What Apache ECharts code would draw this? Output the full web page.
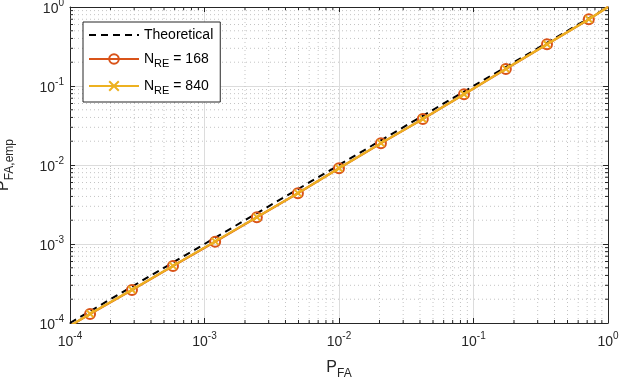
<!DOCTYPE html>
<html>
<head>
<meta charset="UTF-8">
<title>PFA empirical vs theoretical</title>
<script src="https://cdn.jsdelivr.net/npm/echarts@6/dist/echarts.min.js"></script>
<style>
	html, body { margin: 0; padding: 0; background: #fff; }
	#chart { width: 622px; height: 384px; }
</style>
</head>
<body>
<div id="chart"></div>
<script>
	// data
	var pfa = [1.41e-4, 2.89e-4, 5.83e-4, 1.20e-3, 2.45e-3, 4.95e-3, 1.0e-2, 2.05e-2, 4.2e-2, 8.5e-2, 0.174, 0.352, 0.72];
	var emp168 = [1.30e-4, 2.62e-4, 5.27e-4, 1.07e-3, 2.18e-3, 4.39e-3, 9.08e-3, 1.88e-2, 3.82e-2, 7.85e-2, 0.164, 0.337, 0.698];
	var emp840 = [1.31e-4, 2.63e-4, 5.29e-4, 1.08e-3, 2.19e-3, 4.40e-3, 9.10e-3, 1.89e-2, 3.83e-2, 7.87e-2, 0.165, 0.338, 0.699];
	var lineStart = [1e-4, 0.92e-4];
	var lineEnd = [1, 1];
	var theory = [[1e-4, 1e-4], [1, 1]];
	var decades = [-4, -3, -2, -1, 0];
	var axisMin = 1e-4, axisMax = 1;

	var minorVals = [];
	for (var d = 0; d < decades.length - 1; d++) {
		for (var m = 2; m <= 9; m++) minorVals.push(m * Math.pow(10, decades[d]));
	}

	function pairs(xs, ys) {
		var out = [{value: lineStart, symbol: 'none'}];
		for (var i = 0; i < xs.length; i++) out.push([xs[i], ys[i]]);
		out.push({value: lineEnd, symbol: 'none'});
		return out;
	}

	function powLabel(v) {
		var e = Math.round(Math.log10(v));
		return '{b|10}{s|' + e + '}';
	}
	var supRich = {
		b: {fontSize: 14, color: '#262626', fontFamily: 'Liberation Sans', padding: [4, 0, 0, 0]},
		s: {fontSize: 10, color: '#262626', fontFamily: 'Liberation Sans', padding: [0, 0, 8, 0]}
	};

	var gridCol = '#dcdcdc', axisCol = '#262626';

	function minorGrid(dir) {
		return {
			type: 'custom',
			silent: true,
			z: 1,
			xAxisIndex: 0, yAxisIndex: 0,
			data: minorVals,
			clip: true,
			renderItem: function (params, api) {
				var v = api.value(0);
				var p1, p2;
				if (dir === 'x') { p1 = api.coord([v, axisMin]); p2 = api.coord([v, axisMax]); }
				else { p1 = api.coord([axisMin, v]); p2 = api.coord([axisMax, v]); }
				var tk = 3;
				var children = [{
					type: 'line',
					shape: {x1: p1[0], y1: p1[1], x2: p2[0], y2: p2[1]},
					style: {stroke: '#c4c4c4', lineWidth: 1, lineDash: [1, 3]}
				}];
				if (dir === 'x') {
					children.push({type: 'line', shape: {x1: p1[0], y1: p1[1], x2: p1[0], y2: p1[1] - tk}, style: {stroke: axisCol, lineWidth: 1}});
					children.push({type: 'line', shape: {x1: p2[0], y1: p2[1], x2: p2[0], y2: p2[1] + tk}, style: {stroke: axisCol, lineWidth: 1}});
				} else {
					children.push({type: 'line', shape: {x1: p1[0], y1: p1[1], x2: p1[0] + tk, y2: p1[1]}, style: {stroke: axisCol, lineWidth: 1}});
					children.push({type: 'line', shape: {x1: p2[0], y1: p2[1], x2: p2[0] - tk, y2: p2[1]}, style: {stroke: axisCol, lineWidth: 1}});
				}
				return {type: 'group', children: children};
			}
		};
	}

	var chart = echarts.init(document.getElementById('chart'));
	var option = {
		animation: false,
		backgroundColor: '#fff',
		grid: {left: 70, right: 14, top: 7, bottom: 61, containLabel: false, outerBoundsMode: 'none'},
		legend: {
			left: 83, top: 22,
			orient: 'vertical',
			backgroundColor: '#fff',
			borderColor: '#262626',
			borderWidth: 1,
			borderRadius: 0,
			padding: [6, 7, 6, 5],
			itemWidth: 50,
			itemHeight: 12,
			itemGap: 10,
			data: [
				{name: 'Theoretical', itemStyle: {opacity: 0}},
				'N_RE = 168',
				'N_RE = 840'
			],
			formatter: function (name) {
				if (name === 'Theoretical') return '{t|Theoretical}';
				var p = name.split(' = ');
				return '{t|N}{sub|RE}{t| = ' + p[1] + '}';
			},
			textStyle: {
				color: '#000',
				rich: {
					t: {fontSize: 14, fontFamily: 'Liberation Sans', color: '#000'},
					sub: {fontSize: 11, fontFamily: 'Liberation Sans', color: '#000', padding: [9, 0, 0, 0]}
				}
			}
		},
		xAxis: [{
			type: 'log', logBase: 10, min: axisMin, max: axisMax,
			name: '{p|P}{s|FA}',
			nameLocation: 'middle', nameGap: 33,
			nameTextStyle: {rich: {
				p: {fontSize: 16, fontFamily: 'Liberation Sans', color: '#262626'},
				s: {fontSize: 12, fontFamily: 'Liberation Sans', color: '#262626', padding: [12, 0, 0, 0]}
			}},
			axisLine: {lineStyle: {color: axisCol, width: 1}},
			axisTick: {inside: true, length: 5, lineStyle: {color: axisCol}},
			axisLabel: {formatter: powLabel, rich: supRich, margin: 8},
			splitLine: {show: true, lineStyle: {color: gridCol, width: 1}}
		}, {
			type: 'log', logBase: 10, min: axisMin, max: axisMax, position: 'top',
			axisLine: {lineStyle: {color: axisCol, width: 1}},
			axisTick: {inside: true, length: 5, lineStyle: {color: axisCol}},
			axisLabel: {show: false},
			splitLine: {show: false}
		}],
		yAxis: [{
			type: 'log', logBase: 10, min: axisMin, max: axisMax,
			name: '{p|P}{s|FA,emp}',
			nameLocation: 'middle', nameGap: 54, nameRotate: 90,
			nameTextStyle: {rich: {
				p: {fontSize: 16, fontFamily: 'Liberation Sans', color: '#262626'},
				s: {fontSize: 12, fontFamily: 'Liberation Sans', color: '#262626', padding: [12, 0, 0, 0]}
			}},
			axisLine: {lineStyle: {color: axisCol, width: 1}},
			axisTick: {inside: true, length: 5, lineStyle: {color: axisCol}},
			axisLabel: {formatter: powLabel, rich: supRich, margin: 6},
			splitLine: {show: true, lineStyle: {color: gridCol, width: 1}}
		}, {
			type: 'log', logBase: 10, min: axisMin, max: axisMax, position: 'right',
			axisLine: {lineStyle: {color: axisCol, width: 1}},
			axisTick: {inside: true, length: 5, lineStyle: {color: axisCol}},
			axisLabel: {show: false},
			splitLine: {show: false}
		}],
		series: [
			minorGrid('x'),
			minorGrid('y'),
			{
				name: 'Theoretical',
				type: 'line',
				z: 3,
				data: theory,
				symbol: 'none',
				lineStyle: {color: '#000', width: 2, type: [7, 5]},
				itemStyle: {color: '#000'}
			},
			{
				name: 'N_RE = 168',
				type: 'line',
				z: 4,
				data: pairs(pfa, emp168),
				symbol: 'circle',
				symbolSize: 10,
				showAllSymbol: true,
				lineStyle: {color: '#D95319', width: 2.2},
				itemStyle: {color: 'rgba(0,0,0,0)', borderColor: '#D95319', borderWidth: 2}
			},
			{
				name: 'N_RE = 840',
				type: 'line',
				z: 5,
				data: pairs(pfa, emp840),
				symbol: 'path://M0,0L10,10M10,0L0,10',
				symbolSize: 7,
				showAllSymbol: true,
				lineStyle: {color: '#EDB120', width: 2.2},
				itemStyle: {color: 'rgba(0,0,0,0)', borderColor: '#EDB120', borderWidth: 2}
			}
		]
	};
	chart.setOption(option);
</script>
</body>
</html>
